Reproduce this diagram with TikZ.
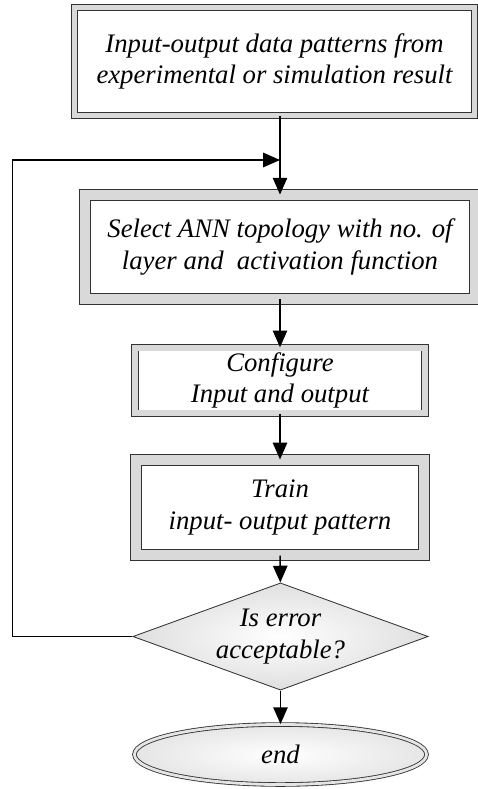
\documentclass[tikz,border=0pt]{standalone}
\usepackage{fontspec}
\setmainfont{Liberation Serif}
\usetikzlibrary{arrows.meta,positioning,shapes.geometric}

\begin{document}
\begin{tikzpicture}[x=0.025cm ,y=-0.025cm ,
semithick ,
every node/.style ={font=\fontsize{19}{22.5}\selectfont\itshape , align=center},
bevel/.style ={rectangle ,draw=black!80 ,fill=white ,
double=gray!30 ,double distance=4pt},
thickbevel/.style ={bevel ,double distance=7pt},
decide/.style ={diamond ,draw=black!80 ,inner color=white ,outer color=gray!25 ,
shape aspect=2.75 ,minimum width=7.38cm ,minimum height=2.68cm ,inner sep=0pt},
stop/.style ={ellipse ,draw=black!80 ,double=gray!20 ,double distance=2pt ,
inner color=white ,outer color=gray!20 ,
minimum width=7.3cm ,minimum height=1.5cm},
flow/.style ={line width=1.1pt ,-{Triangle[length=0.42cm,width=0.36cm]}}]

\useasboundingbox (0,0) rectangle (478,789);

\node[bevel ,minimum width=10.0cm ,minimum height=2.7cm] (data) at (274.5,61.5)
{Input-output data patterns from\\experimental or simulation result};
\node[thickbevel ,minimum width=9.75cm ,minimum height=2.6cm] (topo) at (280,247)
{Select ANN topology with no. of\\layer and~~activation function};
\node[bevel ,minimum width=7.25cm ,minimum height=1.62cm] (conf) at (280,380.5)
{Configure\\Input and output};
\node[thickbevel ,minimum width=7.2cm ,minimum height=2.38cm] (train) at (280,507.5)
{Train\\input- output pattern};
\node[decide] (test) at (280.5,636.5) {Is error\\acceptable?};
\node[stop] (end) at (280.5,754.5) {end};

\coordinate (join) at (280,160);

\draw[flow] (data.south -| topo.north) -- (topo.north);
\draw[flow] (topo) -- (conf);
\draw[flow] (conf) -- (train);
\draw[flow] (train) -- (test);
\draw[flow] (test) -- (end);
\draw[flow] (test.west) -- ++(-120,0) |- (join);
\end{tikzpicture}
\end{document}
